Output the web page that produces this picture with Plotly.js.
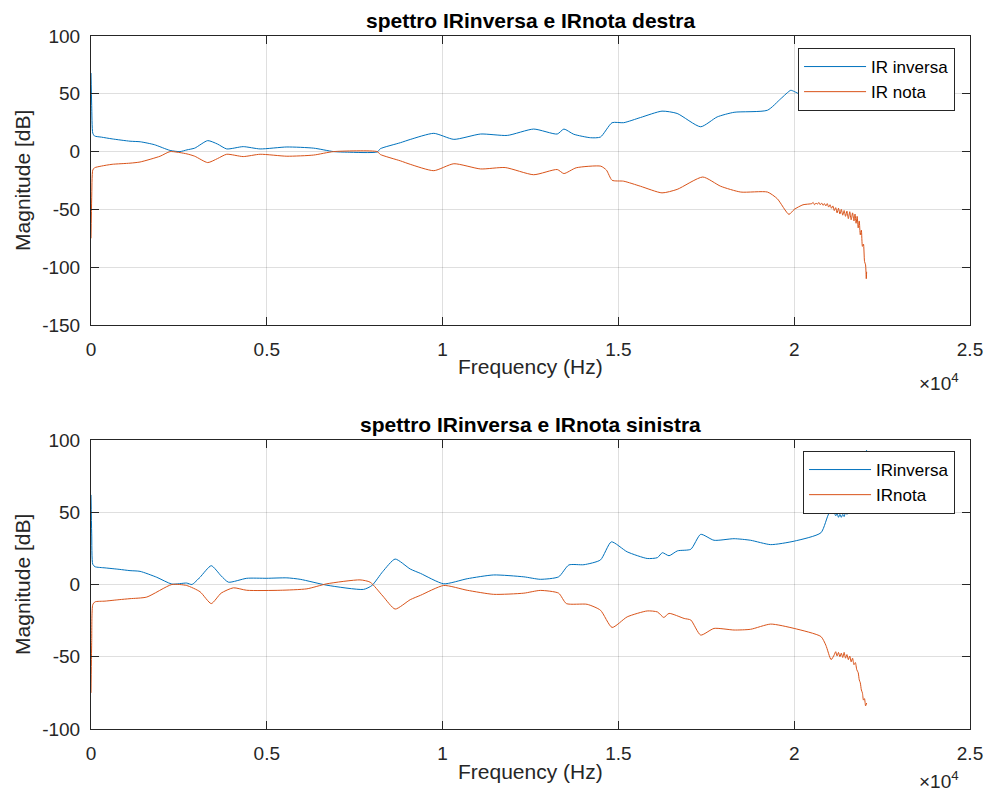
<!DOCTYPE html>
<html>
<head>
<meta charset="utf-8">
<script src="https://cdn.plot.ly/plotly-3.0.1.min.js"></script>
<style>
  html, body { margin: 0; padding: 0; background: #ffffff; }
  #chart { width: 988px; height: 793px; }
</style>
</head>
<body>
<div id="chart"></div>
<script>
// ---- right channel (destra) ----
const freqDxInv = [0, 20, 50, 100, 300, 600, 1110, 1400, 1800, 2250, 2530, 2730, 2950, 3320, 3600, 3860,
  4330, 4810, 5570, 6330, 6900, 7290, 8140, 8230, 8800, 9080, 9750, 10320, 11080, 11840, 12590, 13260,
  13450, 13730, 14210, 14490, 14820, 15150, 15630, 16240, 16670, 17340, 17810, 18290, 19240, 19620,
  19900, 20000, 20470, 20850, 21230, 21700, 21850, 21990, 22060];
const magDxInv = [68, 40, 16, 13.5, 12.5, 11, 9, 8.5, 6, 1, 0, 1.5, 3, 9.5, 6.5, 2.3,
  4.3, 2.3, 4, 3, 0, -0.5, -0.3, 2.5, 7.7, 10.5, 15.8, 10.6, 15.2, 14, 19.5, 15.2,
  19.5, 15, 12, 12.6, 25, 25, 29.5, 35, 33, 21.5, 30, 34, 35.8, 45.8,
  53, 52, 45, 45.5, 52, 57, 64, 80, 86];

const freqDxNota = [0, 20, 50, 100, 300, 600, 1110, 1395, 1965, 2250, 2730, 2950, 3320, 3600, 3860,
  4330, 4810, 5570, 6330, 6900, 8140, 8230, 8800, 9080, 9750, 10320, 11080, 11780, 12590, 13260,
  13450, 13800, 14500, 14660, 14820, 15150, 15630, 16240, 16670, 17400, 17910, 18480, 19240, 19520,
  19850, 20000, 20250, 20500, 20540, 20580, 20620, 20660, 20700, 20740, 20780, 20820, 20860, 20900,
  20940, 20980, 21020, 21060, 21100, 21140, 21180, 21220, 21260, 21300, 21340, 21380, 21420, 21460,
  21500, 21540, 21580, 21620, 21660, 21700, 21730, 21760, 21790, 21820, 21850, 21880, 21910, 21940,
  21970, 22000, 22030, 22050, 22060];
const magDxNota = [-75, -40, -16, -14, -12.5, -11, -10, -9, -4, 0, -2, -4, -9.5, -6, -2.3,
  -4.3, -2.3, -4, -3, 0, 0, -2.5, -8, -11, -16.5, -10.5, -15, -13.8, -20, -15.5,
  -19, -14, -12.6, -16, -24.8, -25.6, -30, -35.7, -32.7, -22, -30, -35, -35, -40.8,
  -54.3, -50, -46, -45, -44, -46, -44.5, -45.5, -44, -46, -44.5, -46.5, -45, -47,
  -45, -48, -46, -49, -47, -51, -48.5, -53, -49, -54, -50, -55, -51, -56,
  -51.5, -58, -52, -59, -53, -60, -54, -62, -56, -66, -60, -72, -68, -82,
  -80, -95, -98, -110, -104];

// ---- left channel (sinistra) ----
const freqSxInv = [0, 20, 50, 114, 400, 800, 1110, 1395, 1870, 2300, 2720, 2870, 3100, 3420, 3700, 3910,
  4430, 5000, 5570, 5950, 6710, 7750, 7990, 8300, 8650, 9080, 9370, 10030, 10700, 11450, 12310, 12780,
  13300, 13590, 14020, 14490, 14800, 15250, 15820, 16110, 16250, 16440, 16680, 17060, 17340, 17720,
  18290, 18760, 19330, 20000, 20760, 21000, 21140, 21180, 21220, 21260, 21300, 21340, 21380, 21420,
  21460, 21500, 21540, 21580, 21620, 21660, 21700, 21800, 21900, 22000, 22060];
const magSxInv = [62, 35, 14, 12.3, 11.5, 10.5, 9.6, 9.1, 5, 0.3, 1, 0, 5, 13, 6, 1.6,
  4.3, 4.3, 4.6, 3.6, -0.5, -3.4, -0.7, 9, 17.6, 10.7, 7.7, 0.5, 4, 6.6, 5.3, 3.6,
  5.3, 13.5, 13.7, 17, 29.5, 22.6, 18, 18.6, 22, 19.9, 23.3, 24.4, 34.7, 30.6,
  31.7, 30.6, 27.6, 30, 35.8, 49.5, 49.5, 47.5, 49, 46.5, 48.5, 46.5, 48.5, 47,
  50, 48.5, 51.5, 50, 53, 52, 55, 60, 72, 85, 93];

const freqSxNota = [0, 20, 50, 114, 400, 800, 1110, 1585, 2300, 2720, 3100, 3420, 3700, 4050,
  4430, 5380, 6140, 6710, 7650, 7940, 8300, 8650, 9080, 9370, 10030, 10700, 11450, 12310, 12780,
  13300, 13520, 14110, 14490, 14820, 15250, 15820, 16110, 16290, 16440, 16870, 17060, 17340, 17720,
  18290, 18760, 19330, 20000, 20760, 20900, 21050, 21140, 21180, 21220, 21260, 21300, 21340, 21380,
  21420, 21460, 21500, 21540, 21580, 21620, 21660, 21700, 21740, 21780, 21820, 21850, 21880, 21910,
  21940, 21970, 22000, 22030, 22060];
const magSxNota = [-75, -40, -14, -12, -11.5, -10.5, -9.8, -8.7, 0, -0.7, -5, -13.2, -6, -2.3,
  -4, -4, -3, 0.5, 3.2, 1.6, -8, -17, -10.5, -7.5, -0.7, -4, -6.8, -6, -4.1,
  -6, -13.2, -13.7, -17.8, -29.7, -22.4, -18.3, -19, -22.8, -20, -23.5, -24.6, -35, -30.4,
  -31.5, -31, -27.4, -30.4, -36, -42, -52, -48.6, -46.5, -49.5, -47, -50, -47.5, -50.5,
  -47, -51, -48.5, -52, -49.5, -53.5, -51, -55.5, -54, -59, -61, -66, -68, -73,
  -75, -80, -79, -84, -82];

// axis tick labels (frequency shown in units of 10^4 Hz)
const xTickVals = [0, 5000, 10000, 15000, 20000, 25000];
const xTickText = ['0', '0.5', '1', '1.5', '2', '2.5'];
const yTickTop = [-150, -100, -50, 0, 50, 100];
const yTickTopText = ['-150', '-100', '-50', '0', '50', '100'];
const yTickBottom = [-100, -50, 0, 50, 100];
const yTickBottomText = ['-100', '-50', '0', '50', '100'];

const blue = '#0072BD';
const orange = '#D95319';
const axisColor = '#262626';
const gridColor = 'rgba(38,38,38,0.15)';
const fontFamily = '"Liberation Sans", Arial, Helvetica, sans-serif';

function curve(x, y, name, color, xa, ya, lg) {
  return { x: x, y: y, name: name, type: 'scatter', mode: 'lines',
    line: { color: color, width: 1, shape: 'spline', smoothing: 0.6 },
    xaxis: xa, yaxis: ya, legend: lg };
}

const traces = [
  curve(freqDxInv, magDxInv, 'IR inversa', blue, 'x', 'y', 'legend'),
  curve(freqDxNota, magDxNota, 'IR nota', orange, 'x', 'y', 'legend'),
  curve(freqSxInv, magSxInv, 'IRinversa', blue, 'x2', 'y2', 'legend2'),
  curve(freqSxNota, magSxNota, 'IRnota', orange, 'x2', 'y2', 'legend2')
];

function xAxis(anchor) {
  return {
    anchor: anchor, domain: [0, 1], range: [0, 25000],
    tickmode: 'array', tickvals: xTickVals, ticktext: xTickText,
    ticks: 'inside', ticklen: 8, tickcolor: axisColor, tickwidth: 1,
    showline: true, linecolor: axisColor, linewidth: 1, mirror: 'ticks',
    showgrid: true, gridcolor: gridColor, zeroline: false,
    ticklabelstandoff: 7,
    tickfont: { family: fontFamily, size: 19, color: axisColor }
  };
}
function yAxis(anchor, domain, range, vals, text) {
  return {
    anchor: anchor, domain: domain, range: range,
    tickmode: 'array', tickvals: vals, ticktext: text,
    ticks: 'inside', ticklen: 8, tickcolor: axisColor, tickwidth: 1,
    showline: true, linecolor: axisColor, linewidth: 1, mirror: 'ticks',
    showgrid: true, gridcolor: gridColor, zeroline: false,
    ticklabelstandoff: 6,
    tickfont: { family: fontFamily, size: 19, color: axisColor }
  };
}

const H = 793;
const py = v => 1 - v / H;   // pixel row -> paper fraction

function legendBox(topRow) {
  return {
    x: 0.983, xanchor: 'right', y: py(topRow), yanchor: 'top',
    bgcolor: '#ffffff', bordercolor: axisColor, borderwidth: 1,
    font: { family: fontFamily, size: 17, color: '#000000' },
    tracegroupgap: 0, itemwidth: 62
  };
}

const layout = {
  width: 988, height: 793,
  margin: { l: 91, r: 18, t: 0, b: 0 },
  paper_bgcolor: '#ffffff', plot_bgcolor: '#ffffff',
  showlegend: true,
  font: { family: fontFamily, color: axisColor },
  xaxis: xAxis('y'),
  yaxis: yAxis('x', [py(325), py(36)], [-150, 100], yTickTop, yTickTopText),
  xaxis2: xAxis('y2'),
  yaxis2: yAxis('x2', [py(729), py(440)], [-100, 100], yTickBottom, yTickBottomText),
  legend: legendBox(48),
  legend2: legendBox(451),
  annotations: [
    { text: '<b>spettro IRinversa e IRnota destra</b>', xref: 'paper', yref: 'paper',
      x: 0.5, y: py(21), xanchor: 'center', yanchor: 'middle', showarrow: false,
      font: { family: fontFamily, size: 21, color: '#000000' } },
    { text: '<b>spettro IRinversa e IRnota sinistra</b>', xref: 'paper', yref: 'paper',
      x: 0.5, y: py(424), xanchor: 'center', yanchor: 'middle', showarrow: false,
      font: { family: fontFamily, size: 21, color: '#000000' } },
    { text: 'Frequency (Hz)', xref: 'paper', yref: 'paper',
      x: 0.5, y: py(367), xanchor: 'center', yanchor: 'middle', showarrow: false,
      font: { family: fontFamily, size: 21, color: axisColor } },
    { text: 'Frequency (Hz)', xref: 'paper', yref: 'paper',
      x: 0.5, y: py(771), xanchor: 'center', yanchor: 'middle', showarrow: false,
      font: { family: fontFamily, size: 21, color: axisColor } },
    { text: 'Magnitude [dB]', xref: 'paper', yref: 'paper', textangle: -90,
      x: -0.078, y: py(180.5), xanchor: 'center', yanchor: 'middle', showarrow: false,
      font: { family: fontFamily, size: 21, color: axisColor } },
    { text: 'Magnitude [dB]', xref: 'paper', yref: 'paper', textangle: -90,
      x: -0.078, y: py(584.5), xanchor: 'center', yanchor: 'middle', showarrow: false,
      font: { family: fontFamily, size: 21, color: axisColor } },
    { text: '\u00d710<sup>4</sup>', xref: 'paper', yref: 'paper',
      x: 0.99, y: py(382), xanchor: 'right', yanchor: 'middle', showarrow: false,
      font: { family: fontFamily, size: 19, color: axisColor } },
    { text: '\u00d710<sup>4</sup>', xref: 'paper', yref: 'paper',
      x: 0.99, y: py(780), xanchor: 'right', yanchor: 'middle', showarrow: false,
      font: { family: fontFamily, size: 19, color: axisColor } }
  ]
};

Plotly.newPlot('chart', traces, layout, { displayModeBar: false, staticPlot: true });
</script>
</body>
</html>
